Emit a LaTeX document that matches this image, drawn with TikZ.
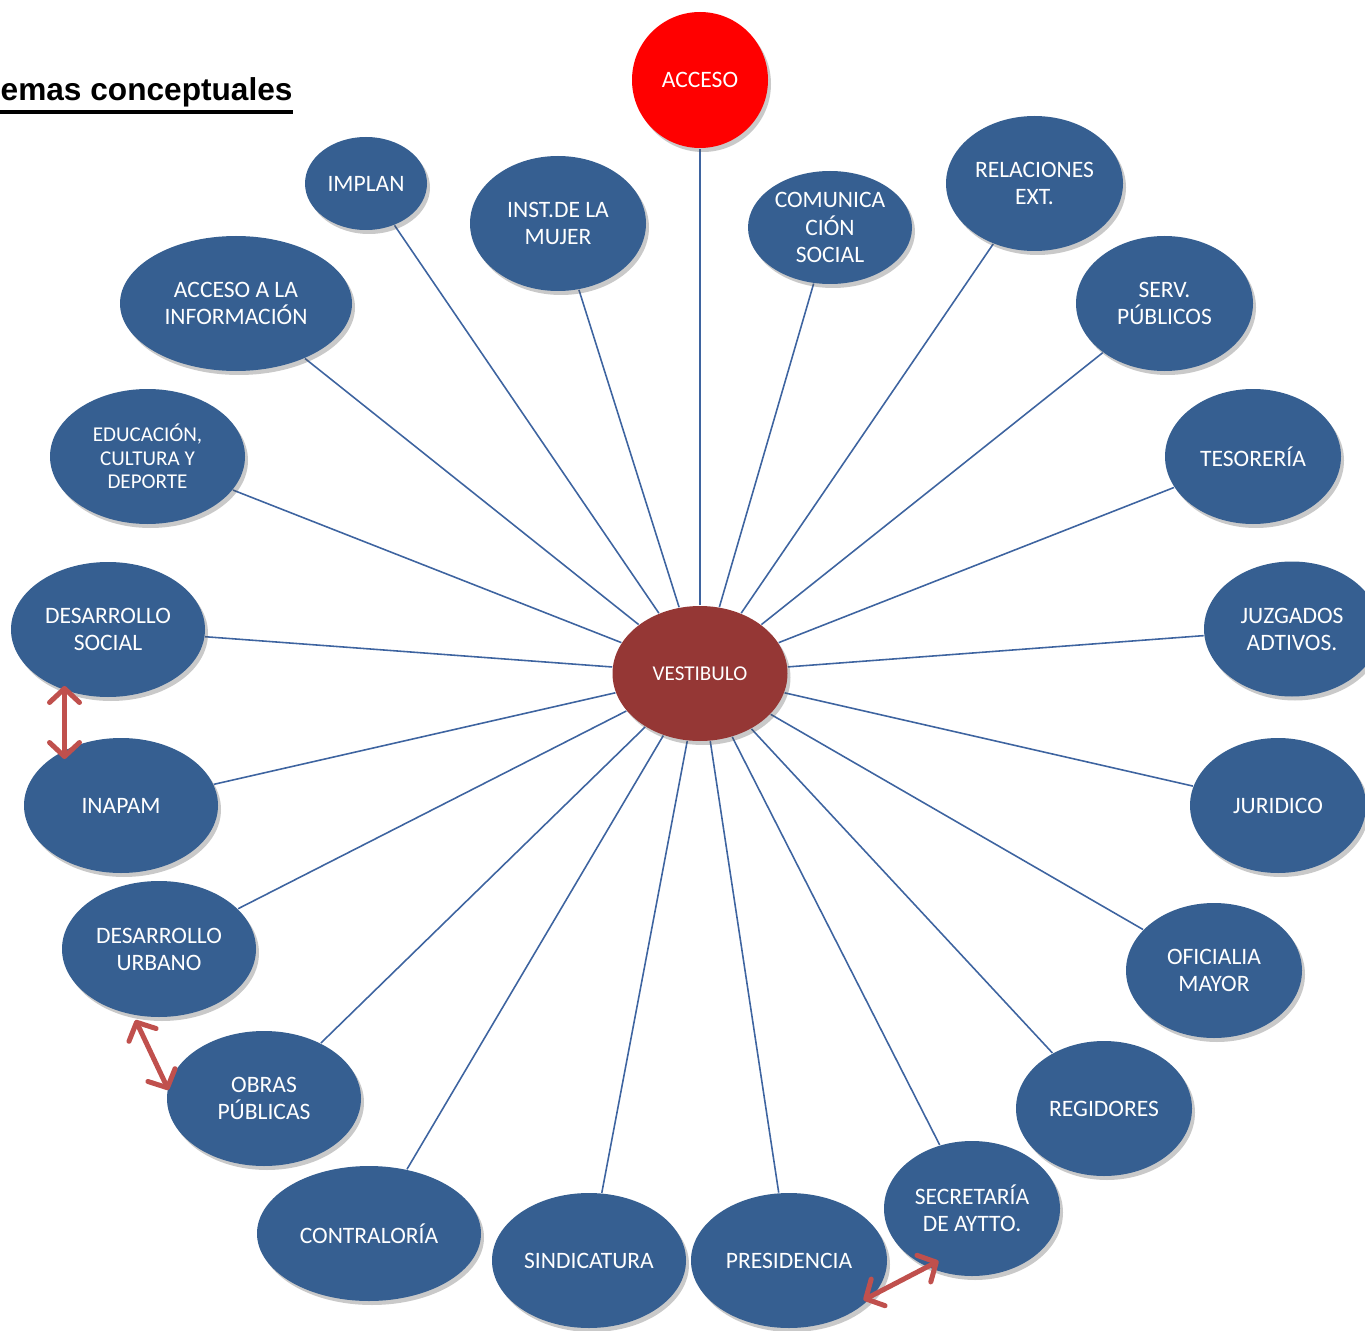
\documentclass[tikz,border=0pt]{standalone}
\usepackage{fontspec}
\setmainfont{Carlito}
\newfontfamily\titlefont{Liberation Sans}
\usepackage{tikz}
\usetikzlibrary{arrows.meta,shadows,backgrounds,shapes.geometric}
\definecolor{bubbleblue}{RGB}{54,95,145}
\definecolor{spokeblue}{RGB}{62,100,160}
\definecolor{vestred}{RGB}{149,55,53}
\definecolor{arrowred}{RGB}{192,80,77}
\tikzset{
  bubble/.style={ellipse,fill=bubbleblue,text=white,inner sep=0pt,align=center,
    font=\fontsize{6.7}{7.7}\selectfont,
    drop shadow={shadow xshift=0.03,shadow yshift=-0.04,opacity=0.3,fill=black!70}},
  spoke/.style={draw=spokeblue,line width=0.45pt},
  barb/.tip={Straight Barb[length=0.14cm,width=0.30cm,line width=0.05cm,line join=round,line cap=round]},
  twoway/.style={draw=arrowred,line width=0.05cm,line cap=round,barb-barb}
}
\begin{document}
\begin{tikzpicture}
\useasboundingbox (0,0) rectangle (13.65,-13.31);
\node[anchor=base west,inner sep=0pt,font=\titlefont\bfseries\fontsize{9}{11}\selectfont] (title) at (0.000,-1.010) {emas conceptuales};
\draw[line width=0.035cm] ([yshift=-0.035cm]title.south west) -- ([yshift=-0.035cm]title.south east);
\node[circle,fill=red,text=white,inner sep=0pt,minimum size=1.36cm,font=\fontsize{6.7}{7.7}\selectfont,
  drop shadow={shadow xshift=0.03,shadow yshift=-0.04,opacity=0.3,fill=black!70}] (acceso) at (7.000,-0.800) {ACCESO};
\node[bubble,fill=vestred,minimum width=1.75cm,minimum height=1.35cm,font=\fontsize{6}{7}\selectfont] (vest) at (7.000,-6.735) {VESTIBULO};
\node[bubble,minimum width=1.22cm,minimum height=0.93cm] (implan) at (3.660,-1.835) {IMPLAN};
\node[bubble,minimum width=1.76cm,minimum height=1.35cm] (mujer) at (5.580,-2.235) {INST.DE LA\\MUJER};
\node[bubble,minimum width=1.64cm,minimum height=1.13cm] (comsoc) at (8.300,-2.275) {COMUNICA\\CIÓN\\SOCIAL};
\node[bubble,minimum width=1.77cm,minimum height=1.35cm] (relext) at (10.345,-1.835) {RELACIONES\\EXT.};
\node[bubble,minimum width=2.32cm,minimum height=1.35cm] (accinfo) at (2.360,-3.035) {ACCESO A LA\\INFORMACIÓN};
\node[bubble,minimum width=1.77cm,minimum height=1.35cm] (servpub) at (11.645,-3.035) {SERV.\\PÚBLICOS};
\node[bubble,minimum width=1.95cm,minimum height=1.35cm,font=\fontsize{6}{6.7}\selectfont] (educ) at (1.475,-4.565) {EDUCACIÓN,\\CULTURA Y\\DEPORTE};
\node[bubble,minimum width=1.76cm,minimum height=1.35cm] (teso) at (12.530,-4.565) {TESORERÍA};
\node[bubble,minimum width=1.94cm,minimum height=1.35cm] (desoc) at (1.080,-6.295) {DESARROLLO\\SOCIAL};
\node[bubble,minimum width=1.76cm,minimum height=1.35cm] (juzg) at (12.920,-6.290) {JUZGADOS\\ADTIVOS.};
\node[bubble,minimum width=1.94cm,minimum height=1.35cm] (inapam) at (1.210,-8.055) {INAPAM};
\node[bubble,minimum width=1.76cm,minimum height=1.35cm] (jurid) at (12.780,-8.055) {JURIDICO};
\node[bubble,minimum width=1.94cm,minimum height=1.36cm] (deurb) at (1.590,-9.490) {DESARROLLO\\URBANO};
\node[bubble,minimum width=1.76cm,minimum height=1.35cm] (ofmay) at (12.140,-9.705) {OFICIALIA\\MAYOR};
\node[bubble,minimum width=1.94cm,minimum height=1.35cm] (obras) at (2.640,-10.985) {OBRAS\\PÚBLICAS};
\node[bubble,minimum width=1.76cm,minimum height=1.35cm] (regid) at (11.040,-11.085) {REGIDORES};
\node[bubble,minimum width=2.24cm,minimum height=1.35cm] (contra) at (3.690,-12.335) {CONTRALORÍA};
\node[bubble,minimum width=1.94cm,minimum height=1.35cm] (sindi) at (5.890,-12.605) {SINDICATURA};
\node[bubble,minimum width=1.96cm,minimum height=1.35cm] (presi) at (7.890,-12.605) {PRESIDENCIA};
\node[bubble,minimum width=1.76cm,minimum height=1.35cm] (secre) at (9.720,-12.085) {SECRETARÍA\\DE AYTTO.};
\begin{scope}[on background layer]
\foreach \n in {acceso,implan,mujer,comsoc,relext,accinfo,servpub,educ,teso,desoc,juzg,inapam,jurid,deurb,ofmay,obras,regid,contra,sindi,presi,secre}
  \draw[spoke] (vest) -- (\n);
\end{scope}
\coordinate (desocTip) at (0.645,-6.860);
\coordinate (inapamTip) at (0.645,-7.590);
\coordinate (deurbTip) at (1.355,-10.200);
\coordinate (obrasTip) at (1.685,-10.900);
\coordinate (presiTip) at (8.635,-13.000);
\coordinate (secreTip) at (9.385,-12.610);
\draw[twoway] (desocTip) -- (inapamTip);
\draw[twoway] (deurbTip) -- (obrasTip);
\draw[twoway] (presiTip) -- (secreTip);
\end{tikzpicture}
\end{document}
